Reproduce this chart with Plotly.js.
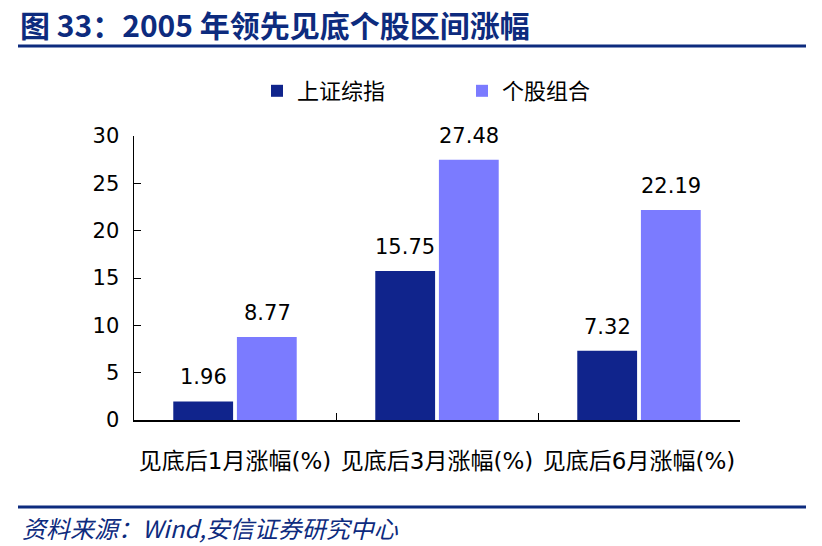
<!DOCTYPE html>
<html>
<head>
<meta charset="utf-8">
<script src="https://cdn.plot.ly/plotly-3.0.1.min.js"></script>
<style>
  html, body { margin: 0; padding: 0; background: #fff; }
  #chart { width: 822px; height: 546px; }
</style>
</head>
<body>
<div id="chart"></div>
<script>
const categories = ["见底后1月涨幅(%)", "见底后3月涨幅(%)", "见底后6月涨幅(%)"];
const seriesNames = ["上证综指", "个股组合"];
const indexValues = [1.96, 15.75, 7.32];
const portfolioValues = [8.77, 27.48, 22.19];
const yTicks = [0, 5, 10, 15, 20, 25, 30];

const colors = ["#10248c", "#7b7bff"];
const NUMFONT = "DejaVu Sans, Noto Sans CJK SC, sans-serif";
const CJK = "Noto Sans CJK SC, sans-serif";
const NAVY = "#0d2b7e";
const PH = 284; // plot height in px

const traces = [
  { type: "bar", name: seriesNames[0], x: categories, y: indexValues,
    marker: { color: colors[0] }, hoverinfo: "none" },
  { type: "bar", name: seriesNames[1], x: categories, y: portfolioValues,
    marker: { color: colors[1] }, hoverinfo: "none" }
];

const annotations = [];
[indexValues, portfolioValues].forEach((vals, si) => {
  vals.forEach((v, i) => {
    annotations.push({
      x: categories[i], y: v, xref: "x", yref: "y",
      text: v.toFixed(2), showarrow: false,
      yanchor: "bottom", yshift: 10, xshift: si === 0 ? -32 : 32,
      font: { family: NUMFONT, size: 21, color: "#000" }
    });
  });
});
annotations.push({
  xref: "paper", yref: "paper", x: (20 - 134) / 606, y: (420 - 527) / PH,
  xanchor: "left", yanchor: "middle", showarrow: false,
  text: "<i>资料来源：Wind,安信证券研究中心</i>",
  font: { family: CJK, size: 24, color: NAVY }
});

const layout = {
  width: 822, height: 546,
  margin: { l: 134, r: 82, t: 136, b: 126 },
  paper_bgcolor: "#fff", plot_bgcolor: "#fff",
  title: {
    text: "<b>图 33：2005 年领先见底个股区间涨幅</b>",
    x: 20 / 822, xanchor: "left", xref: "container",
    y: 1 - 26 / 546, yanchor: "middle", yref: "container",
    font: { family: CJK, size: 30, color: NAVY }
  },
  barmode: "group", bargap: 0.37, bargroupgap: 0.06,
  showlegend: true,
  legend: {
    orientation: "h", x: (257 - 134) / 606, xanchor: "left",
    y: (420 - 70) / PH, yanchor: "top", yref: "paper",
    entrywidth: 160, entrywidthmode: "pixels",
    font: { family: CJK, size: 22, color: "#000" },
    itemclick: false, itemdoubleclick: false
  },
  xaxis: {
    type: "category", showline: true, linecolor: "#000", linewidth: 1.5,
    ticks: "inside", tickson: "boundaries", ticklen: 7, tickcolor: "#000",
    tickfont: { family: NUMFONT, size: 23, color: "#000" },
    showgrid: false, zeroline: false, fixedrange: true, ticklabelstandoff: 20
  },
  yaxis: {
    range: [0, 30], tickvals: yTicks, ticktext: yTicks.map(String),
    showline: true, linecolor: "#000", linewidth: 1.5,
    ticks: "inside", ticklen: 7, tickcolor: "#000",
    tickfont: { family: NUMFONT, size: 21, color: "#000" },
    showgrid: false, zeroline: false, fixedrange: true, ticklabelstandoff: 9
  },
  annotations: annotations,
  shapes: [
    { type: "line", xref: "paper", yref: "paper",
      x0: (18 - 134) / 606, x1: (806 - 134) / 606,
      y0: (420 - 46) / PH, y1: (420 - 46) / PH,
      line: { color: NAVY, width: 3 } },
    { type: "line", xref: "paper", yref: "paper",
      x0: (18 - 134) / 606, x1: (806 - 134) / 606,
      y0: (420 - 507) / PH, y1: (420 - 507) / PH,
      line: { color: NAVY, width: 3 } }
  ]
};

Plotly.newPlot("chart", traces, layout, { displayModeBar: false, staticPlot: true });
</script>
</body>
</html>
